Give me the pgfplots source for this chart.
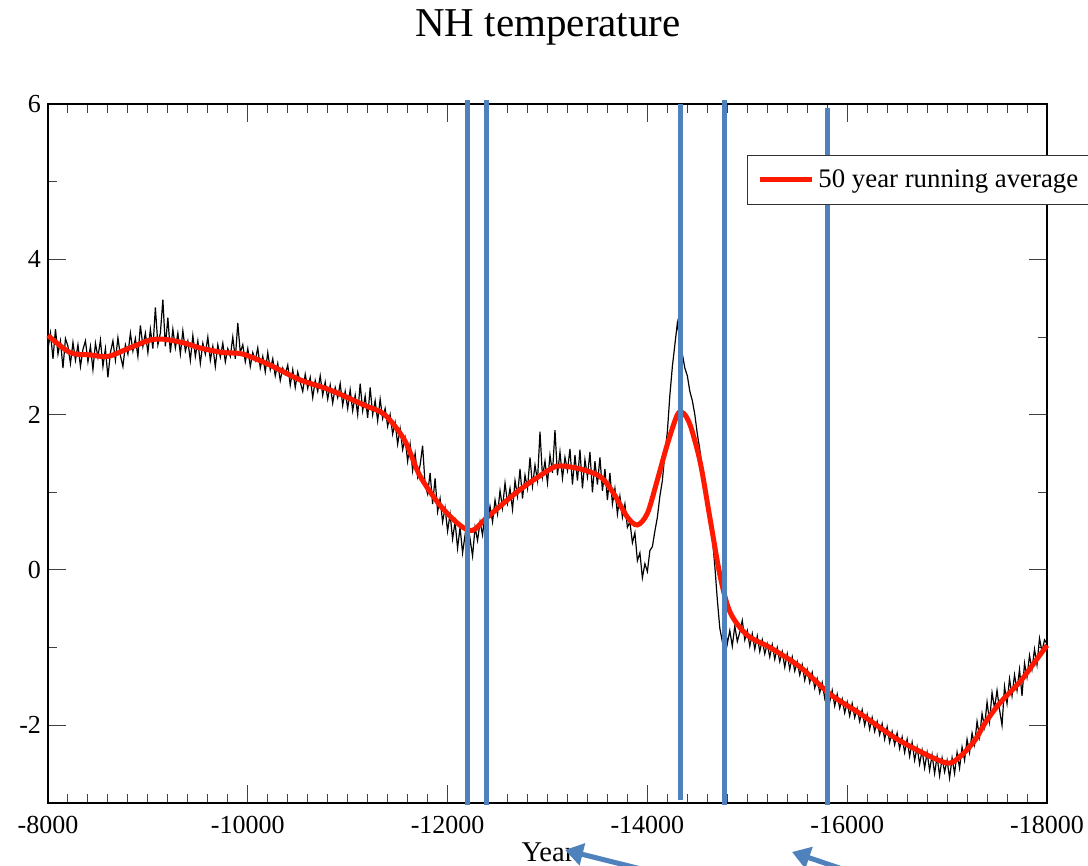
\documentclass[border=0pt]{standalone}
\usepackage{pgfplots}
\pgfplotsset{compat=1.18}
\usepackage{fontspec}
\setmainfont{Liberation Serif}
\usetikzlibrary{arrows.meta}
\definecolor{ublue}{RGB}{79,129,189}
\definecolor{rred}{RGB}{255,25,0}
\begin{document}
\begin{tikzpicture}
\begin{axis}[
 scale only axis, width=499.5pt, height=349.5pt,
 x dir=reverse, xmin=-18000, xmax=-8000, ymin=-3, ymax=6,
 scaled x ticks=false, scaled y ticks=false,
 xtick={-8000,-10000,-12000,-14000,-16000,-18000},
 xticklabels={-8000,-10000,-12000,-14000,-16000,-18000},
 ytick={-2,0,2,4,6}, yticklabels={-2,0,2,4,6},
 minor x tick num=9, minor y tick num=1,
 tick align=inside, major tick length=9pt, minor tick length=4.5pt,
 tick style={black!75, line width=0.5pt},
 axis line style={line width=1pt},
 ticklabel style={font=\fontsize{13}{15}\selectfont},
 xticklabel style={yshift=-3pt},
 legend style={at={(axis description cs:0.6997,0.927)}, anchor=north west, draw=black!80, line width=0.5pt, font=\fontsize{13.4}{16}\selectfont, inner xsep=5pt, inner ysep=5pt},
 legend image code/.code={\draw[#1, line width=2pt] (0pt,0pt) -- (18pt,0pt); \path (0pt,0pt) -- (26pt,0pt);},
 clip=false,
]
\addplot[black, line width=0.6pt, forget plot] table {
-8000 2.85
-8025 3.05
-8050 2.72
-8075 3.10
-8100 2.78
-8125 2.95
-8150 2.60
-8175 2.98
-8200 2.88
-8225 2.66
-8250 2.93
-8275 2.70
-8300 2.90
-8325 2.62
-8350 2.84
-8375 2.95
-8400 2.68
-8425 2.88
-8450 2.58
-8475 2.92
-8500 2.74
-8525 2.96
-8550 2.62
-8575 2.85
-8600 2.48
-8625 2.80
-8650 2.95
-8675 2.70
-8700 2.99
-8725 2.76
-8750 2.62
-8775 2.90
-8800 2.78
-8825 3.05
-8850 2.82
-8875 2.98
-8900 2.75
-8925 3.15
-8950 2.88
-8975 3.05
-9000 2.80
-9025 3.10
-9050 2.85
-9075 3.38
-9100 2.90
-9125 3.05
-9150 3.48
-9175 2.88
-9200 3.25
-9225 2.80
-9250 3.10
-9275 2.86
-9300 3.05
-9325 2.78
-9350 3.08
-9375 2.82
-9400 2.95
-9425 2.70
-9450 3.02
-9475 2.75
-9500 2.95
-9525 2.66
-9550 2.92
-9575 2.78
-9600 3.00
-9625 2.70
-9650 2.88
-9675 2.62
-9700 2.90
-9725 2.74
-9750 2.92
-9775 2.68
-9800 2.85
-9825 2.75
-9850 3.00
-9875 2.72
-9900 3.18
-9925 2.80
-9950 2.90
-9975 2.68
-10000 2.85
-10025 2.62
-10050 2.80
-10075 2.70
-10100 2.86
-10125 2.60
-10150 2.75
-10175 2.55
-10200 2.80
-10225 2.58
-10250 2.72
-10275 2.50
-10300 2.66
-10325 2.44
-10350 2.60
-10375 2.52
-10400 2.64
-10425 2.38
-10450 2.58
-10475 2.35
-10500 2.55
-10525 2.42
-10550 2.30
-10575 2.52
-10600 2.34
-10625 2.48
-10650 2.22
-10675 2.44
-10700 2.30
-10725 2.50
-10750 2.25
-10775 2.42
-10800 2.20
-10825 2.38
-10850 2.15
-10875 2.35
-10900 2.22
-10925 2.40
-10950 2.12
-10975 2.30
-11000 2.08
-11025 2.32
-11050 2.05
-11075 2.25
-11100 2.00
-11125 2.40
-11150 2.05
-11175 2.24
-11200 1.96
-11225 2.35
-11250 2.00
-11275 2.18
-11300 1.92
-11325 2.20
-11350 1.95
-11375 2.08
-11400 1.85
-11425 2.00
-11450 1.75
-11475 1.90
-11500 1.62
-11525 1.82
-11550 1.55
-11575 1.70
-11600 1.40
-11625 1.62
-11650 1.28
-11675 1.50
-11700 1.20
-11725 1.35
-11750 1.60
-11775 1.10
-11800 0.98
-11825 1.25
-11850 0.85
-11875 1.18
-11900 0.75
-11925 0.92
-11950 0.62
-11975 0.80
-12000 0.50
-12025 0.72
-12050 0.40
-12075 0.62
-12100 0.28
-12125 0.55
-12150 0.22
-12175 0.45
-12200 0.12
-12225 0.40
-12250 0.18
-12275 0.55
-12300 0.38
-12325 0.62
-12350 0.45
-12375 0.75
-12400 0.60
-12425 0.82
-12450 0.62
-12475 0.90
-12500 0.72
-12525 1.02
-12550 0.80
-12575 1.12
-12600 0.86
-12625 1.05
-12650 0.78
-12675 1.15
-12700 0.95
-12725 1.30
-12750 0.92
-12775 1.22
-12800 1.05
-12825 1.45
-12850 1.08
-12875 1.35
-12900 1.15
-12925 1.78
-12950 1.20
-12975 1.40
-13000 1.12
-13025 1.48
-13050 1.25
-13075 1.80
-13100 1.22
-13125 1.52
-13150 1.18
-13175 1.45
-13200 1.28
-13225 1.56
-13250 1.10
-13275 1.48
-13300 1.15
-13325 1.55
-13350 1.05
-13375 1.42
-13400 1.20
-13425 1.52
-13450 1.00
-13475 1.40
-13500 1.10
-13525 1.45
-13550 1.02
-13575 1.30
-13600 0.90
-13625 1.25
-13650 0.85
-13675 1.05
-13700 0.72
-13725 0.95
-13750 0.68
-13775 0.85
-13800 0.55
-13825 0.62
-13850 0.35
-13875 0.48
-13900 0.12
-13925 0.22
-13950 -0.10
-13975 0.08
-14000 -0.02
-14025 0.25
-14050 0.30
-14075 0.50
-14100 0.68
-14125 0.95
-14150 1.15
-14175 1.50
-14200 1.78
-14225 2.25
-14250 2.62
-14275 2.90
-14300 3.18
-14325 2.95
-14350 2.78
-14375 2.60
-14400 2.50
-14425 2.30
-14450 2.18
-14475 2.00
-14500 1.75
-14525 1.55
-14550 1.28
-14575 1.10
-14600 0.90
-14625 0.65
-14650 0.42
-14675 0.05
-14700 -0.38
-14725 -0.75
-14750 -0.92
-14775 -0.70
-14800 -0.95
-14825 -0.78
-14850 -0.98
-14875 -0.72
-14900 -0.92
-14925 -0.80
-14950 -0.65
-14975 -0.90
-15000 -0.78
-15025 -0.98
-15050 -0.82
-15075 -1.02
-15100 -0.85
-15125 -1.05
-15150 -0.90
-15175 -1.08
-15200 -0.95
-15225 -1.12
-15250 -0.96
-15275 -1.15
-15300 -1.00
-15325 -1.18
-15350 -1.05
-15375 -1.25
-15400 -1.08
-15425 -1.28
-15450 -1.12
-15475 -1.30
-15500 -1.18
-15525 -1.35
-15550 -1.22
-15575 -1.42
-15600 -1.28
-15625 -1.45
-15650 -1.32
-15675 -1.52
-15700 -1.40
-15725 -1.58
-15750 -1.45
-15775 -1.65
-15800 -1.50
-15825 -1.70
-15850 -1.55
-15875 -1.75
-15900 -1.60
-15925 -1.78
-15950 -1.66
-15975 -1.84
-16000 -1.70
-16025 -1.88
-16050 -1.72
-16075 -1.90
-16100 -1.78
-16125 -1.95
-16150 -1.80
-16175 -2.00
-16200 -1.86
-16225 -2.05
-16250 -1.90
-16275 -2.08
-16300 -1.95
-16325 -2.12
-16350 -1.98
-16375 -2.18
-16400 -2.02
-16425 -2.22
-16450 -2.08
-16475 -2.25
-16500 -2.10
-16525 -2.30
-16550 -2.15
-16575 -2.35
-16600 -2.18
-16625 -2.40
-16650 -2.22
-16675 -2.45
-16700 -2.28
-16725 -2.50
-16750 -2.32
-16775 -2.55
-16800 -2.35
-16825 -2.58
-16850 -2.38
-16875 -2.62
-16900 -2.40
-16925 -2.65
-16950 -2.42
-16975 -2.60
-17000 -2.45
-17025 -2.68
-17050 -2.42
-17075 -2.62
-17100 -2.35
-17125 -2.55
-17150 -2.28
-17175 -2.45
-17200 -2.18
-17225 -2.35
-17250 -2.10
-17275 -2.25
-17300 -1.95
-17325 -2.15
-17350 -1.85
-17375 -2.02
-17400 -1.70
-17425 -1.95
-17450 -1.58
-17475 -1.78
-17500 -1.55
-17525 -1.80
-17550 -2.00
-17575 -1.50
-17600 -1.72
-17625 -1.40
-17650 -1.62
-17675 -1.35
-17700 -1.55
-17725 -1.28
-17750 -1.62
-17775 -1.20
-17800 -1.38
-17825 -1.10
-17850 -1.28
-17875 -1.02
-17900 -1.22
-17925 -0.88
-17950 -1.05
-17975 -0.90
-18000 -0.95
};
\addplot[rred, line width=2.5pt, smooth] coordinates {
(-8000,3.02) (-8220,2.80) (-8420,2.77) (-8600,2.75) (-8800,2.85) (-9020,2.96)
(-9170,2.97) (-9370,2.92) (-9520,2.86) (-9750,2.80) (-9950,2.78) (-10220,2.64)
(-10520,2.45) (-10820,2.32) (-11170,2.12) (-11370,2.00) (-11570,1.67) (-11720,1.22)
(-11920,0.84) (-12120,0.58) (-12250,0.51) (-12390,0.67) (-12720,1.03) (-13030,1.30)
(-13130,1.34) (-13330,1.30) (-13530,1.20) (-13660,0.99) (-13800,0.68) (-13900,0.58)
(-14000,0.73) (-14100,1.16) (-14200,1.62) (-14300,2.00) (-14360,2.02) (-14430,1.86)
(-14530,1.38) (-14630,0.64) (-14730,-0.09) (-14830,-0.55) (-15000,-0.84) (-15230,-1.00) (-15530,-1.25)
(-15830,-1.60) (-16130,-1.85) (-16530,-2.20) (-16980,-2.48) (-17130,-2.40) (-17280,-2.19)
(-17380,-1.97) (-17530,-1.71) (-17730,-1.44) (-17880,-1.18) (-18000,-0.97)
};
\addlegendentry{50 year running average}
\draw[ublue, line width=2.5pt] (axis cs:-12200,-3.02) -- (axis cs:-12200,6.05);
\draw[ublue, line width=2.5pt] (axis cs:-12390,-3.02) -- (axis cs:-12390,6.05);
\draw[ublue, line width=2.5pt] (axis cs:-14330,-2.96) -- (axis cs:-14330,6.0);
\draw[ublue, line width=2.5pt] (axis cs:-14770,-3.02) -- (axis cs:-14770,6.05);
\draw[ublue, line width=2.5pt] (axis cs:-15800,-3.02) -- (axis cs:-15800,5.95);
\end{axis}
\node[anchor=base, font=\fontsize{20.5}{24}\selectfont] at (250pt,383pt) {NH temperature};
\node[anchor=base, font=\fontsize{14.3}{17}\selectfont] at (250pt,-29.5pt) {Year};
\draw[ublue, line width=2.5pt, -{Triangle[width=11pt,length=9pt]}] (308.5pt,-36pt) -- (258.5pt,-23.5pt);
\draw[ublue, line width=2.5pt, -{Triangle[width=11pt,length=9pt]}] (406pt,-36pt) -- (372pt,-24.5pt);
\pgfresetboundingbox
\path[use as bounding box] (-24pt,-31.5pt) rectangle (520pt,401.5pt);
\end{tikzpicture}
\end{document}
